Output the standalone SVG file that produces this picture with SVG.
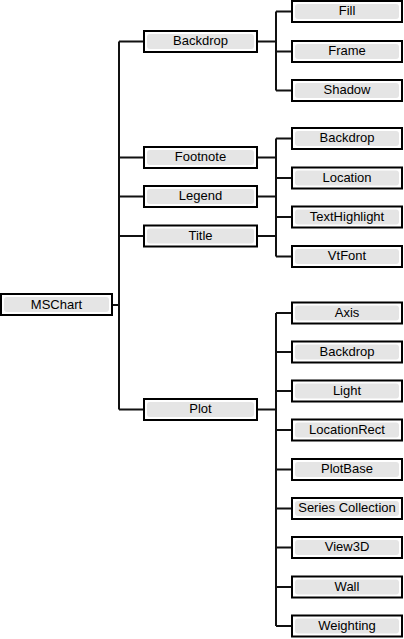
<svg xmlns="http://www.w3.org/2000/svg" width="404" height="639" viewBox="0 0 404 639">
<style>
.b{fill:#fff;stroke:#000;stroke-width:2}
.f{fill:#e5e5e5}
.t{font-family:"Liberation Sans",Arial,sans-serif;font-size:13px;fill:#000;text-anchor:middle}
.c{fill:none;stroke:#111;stroke-width:2}
</style>
<rect width="404" height="639" fill="#fff"/>
<g id="connectors">
<path class="c" d="M113,305H119M119,41.5V409.5M119,41.5H144M119,157.5H144M119,196.5H144M119,236H144M119,409.5H144"/>
<path class="c" d="M257,41.5H276M276,11.5V90.5M276,11.5H292M276,51.5H292M276,90.5H292"/>
<path class="c" d="M257,157.5H276M257,196.5H276M257,236H276M276,138.5V256.5M276,138.5H292M276,178H292M276,217H292M276,256.5H292"/>
<path class="c" d="M257,409.5H276M276,313V626M276,313H292M276,352H292M276,391H292M276,430H292M276,469.5H292M276,508.5H292M276,547.5H292M276,587H292M276,626H292"/>
</g>
<g id="mschart"><rect class="b" x="1" y="294" width="111" height="21"/><rect class="f" x="4" y="297" width="105" height="15" rx="3"/><text class="t" x="56.5" y="308.7">MSChart</text></g>
<g id="backdrop"><rect class="b" x="144" y="31" width="113" height="21"/><rect class="f" x="147" y="34" width="107" height="15" rx="3"/><text class="t" x="200.5" y="45.2">Backdrop</text></g>
<g id="footnote"><rect class="b" x="144" y="147" width="113" height="21"/><rect class="f" x="147" y="150" width="107" height="15" rx="3"/><text class="t" x="200.5" y="161.2">Footnote</text></g>
<g id="legend"><rect class="b" x="144" y="186" width="113" height="21"/><rect class="f" x="147" y="189" width="107" height="15" rx="3"/><text class="t" x="200.5" y="200.2">Legend</text></g>
<g id="title"><rect class="b" x="144" y="225.5" width="113" height="21"/><rect class="f" x="147" y="228.5" width="107" height="15" rx="3"/><text class="t" x="200.5" y="239.7">Title</text></g>
<g id="plot"><rect class="b" x="144" y="399" width="113" height="21"/><rect class="f" x="147" y="402" width="107" height="15" rx="3"/><text class="t" x="200.5" y="413.2">Plot</text></g>
<g id="fill"><rect class="b" x="292" y="1" width="110" height="21"/><rect class="f" x="295" y="4" width="104" height="15" rx="3"/><text class="t" x="347" y="15.2">Fill</text></g>
<g id="frame"><rect class="b" x="292" y="41" width="110" height="21"/><rect class="f" x="295" y="44" width="104" height="15" rx="3"/><text class="t" x="347" y="55.2">Frame</text></g>
<g id="shadow"><rect class="b" x="292" y="80" width="110" height="21"/><rect class="f" x="295" y="83" width="104" height="15" rx="3"/><text class="t" x="347" y="94.2">Shadow</text></g>
<g id="backdrop2"><rect class="b" x="292" y="128" width="110" height="21"/><rect class="f" x="295" y="131" width="104" height="15" rx="3"/><text class="t" x="347" y="142.2">Backdrop</text></g>
<g id="location"><rect class="b" x="292" y="167.5" width="110" height="21"/><rect class="f" x="295" y="170.5" width="104" height="15" rx="3"/><text class="t" x="347" y="181.7">Location</text></g>
<g id="texthighlight"><rect class="b" x="292" y="206.5" width="110" height="21"/><rect class="f" x="295" y="209.5" width="104" height="15" rx="3"/><text class="t" x="347" y="220.7">TextHighlight</text></g>
<g id="vtfont"><rect class="b" x="292" y="246" width="110" height="21"/><rect class="f" x="295" y="249" width="104" height="15" rx="3"/><text class="t" x="347" y="260.2">VtFont</text></g>
<g id="axis"><rect class="b" x="292" y="302.5" width="110" height="21"/><rect class="f" x="295" y="305.5" width="104" height="15" rx="3"/><text class="t" x="347" y="316.7">Axis</text></g>
<g id="backdrop3"><rect class="b" x="292" y="341.5" width="110" height="21"/><rect class="f" x="295" y="344.5" width="104" height="15" rx="3"/><text class="t" x="347" y="355.7">Backdrop</text></g>
<g id="light"><rect class="b" x="292" y="380.5" width="110" height="21"/><rect class="f" x="295" y="383.5" width="104" height="15" rx="3"/><text class="t" x="347" y="394.7">Light</text></g>
<g id="locationrect"><rect class="b" x="292" y="419.5" width="110" height="21"/><rect class="f" x="295" y="422.5" width="104" height="15" rx="3"/><text class="t" x="347" y="433.7">LocationRect</text></g>
<g id="plotbase"><rect class="b" x="292" y="459" width="110" height="21"/><rect class="f" x="295" y="462" width="104" height="15" rx="3"/><text class="t" x="347" y="473.2">PlotBase</text></g>
<g id="series"><rect class="b" x="292" y="498" width="110" height="21"/><rect class="f" x="295" y="501" width="104" height="15" rx="3"/><text class="t" x="347" y="512.2">Series Collection</text></g>
<g id="view3d"><rect class="b" x="292" y="537" width="110" height="21"/><rect class="f" x="295" y="540" width="104" height="15" rx="3"/><text class="t" x="347" y="551.2">View3D</text></g>
<g id="wall"><rect class="b" x="292" y="576.5" width="110" height="21"/><rect class="f" x="295" y="579.5" width="104" height="15" rx="3"/><text class="t" x="347" y="590.7">Wall</text></g>
<g id="weighting"><rect class="b" x="292" y="615.5" width="110" height="21"/><rect class="f" x="295" y="618.5" width="104" height="15" rx="3"/><text class="t" x="347" y="629.7">Weighting</text></g>
</svg>
